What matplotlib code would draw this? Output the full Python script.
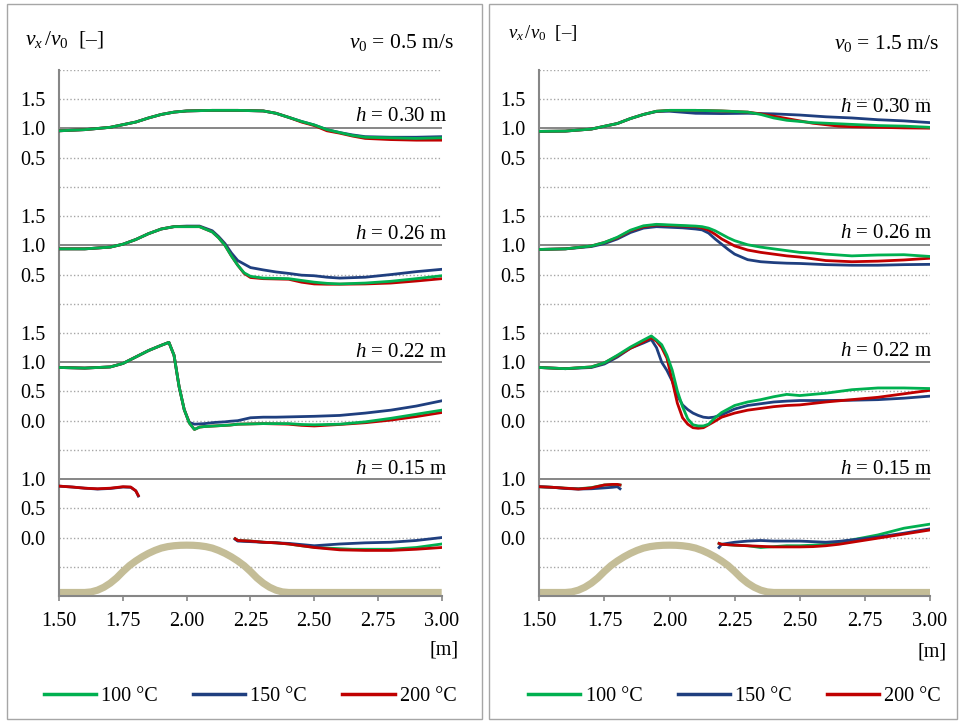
import numpy as np
import matplotlib
matplotlib.use("Agg")
import matplotlib.pyplot as plt
from matplotlib.lines import Line2D
from matplotlib.patches import Rectangle

plt.rcParams['font.family'] = 'Liberation Serif'
plt.rcParams['font.size'] = 14.5
plt.rcParams['mathtext.fontset'] = 'custom'
plt.rcParams['mathtext.rm'] = 'Liberation Serif'
plt.rcParams['mathtext.it'] = 'Liberation Serif:italic'

nan = np.nan

# ---- data (v_x/v_0) ----
X30 = [1.50, 1.60, 1.70, 1.80, 1.85, 1.90, 1.95, 2.00, 2.10, 2.20, 2.30, 2.35, 2.40,
       2.45, 2.50, 2.55, 2.60, 2.65, 2.70, 2.80, 2.90, 3.00]
L30_100 = [.96, .98, 1.02, 1.11, 1.18, 1.24, 1.28, 1.30, 1.31, 1.31, 1.30, 1.26, 1.19,
           1.12, 1.06, .98, .93, .88, .85, .84, .83, .84]
L30_150 = [.96, .98, 1.02, 1.11, 1.18, 1.24, 1.28, 1.30, 1.31, 1.31, 1.30, 1.26, 1.19,
           1.12, 1.06, .98, .93, .89, .86, .85, .85, .86]
L30_200 = [.96, .98, 1.02, 1.11, 1.18, 1.24, 1.28, 1.30, 1.31, 1.31, 1.30, 1.26, 1.19,
           1.11, 1.05, .96, .92, .87, .83, .81, .80, .80]
R30_100 = [.95, .955, .99, 1.085, 1.17, 1.24, 1.295, 1.31, 1.31, 1.30, 1.28, 1.24, 1.18,
           1.14, 1.12, 1.10, 1.09, 1.08, 1.07, 1.05, 1.04, 1.02]
R30_150 = [.95, .955, .99, 1.085, 1.17, 1.24, 1.29, 1.295, 1.26, 1.255, 1.26, 1.255, 1.25,
           1.24, 1.23, 1.215, 1.20, 1.19, 1.18, 1.15, 1.13, 1.10]
R30_200 = [.95, .955, .99, 1.085, 1.17, 1.24, 1.295, 1.31, 1.31, 1.30, 1.28, 1.25, 1.21,
           1.17, 1.13, 1.09, 1.065, 1.04, 1.03, 1.02, 1.01, 1.005]

X26 = [1.50, 1.60, 1.70, 1.75, 1.80, 1.85, 1.90, 1.95, 2.00, 2.05, 2.10, 2.125, 2.15,
       2.175, 2.20, 2.225, 2.25, 2.30, 2.35, 2.40, 2.45, 2.50, 2.55, 2.60, 2.70, 2.80,
       2.90, 3.00]
L26_100 = [.94, .94, .97, 1.02, 1.10, 1.20, 1.28, 1.32, 1.32, 1.32, 1.23, 1.13, 1.00,
           .82, .66, .53, .47, .44, .435, .43, .40, .37, .35, .34, .355, .385, .43, .48]
L26_150 = [.94, .94, .97, 1.02, 1.10, 1.20, 1.28, 1.32, 1.33, 1.33, 1.25, 1.15, 1.03,
           .87, .74, .68, .62, .58, .545, .52, .49, .48, .455, .44, .455, .50, .55, .59]
L26_200 = [.94, .94, .97, 1.02, 1.10, 1.20, 1.28, 1.32, 1.32, 1.32, 1.23, 1.13, 1.00,
           .82, .66, .52, .45, .43, .425, .42, .37, .34, .335, .335, .34, .355, .39, .43]
R26_100 = [.93, .94, .99, 1.05, 1.14, 1.26, 1.335, 1.36, 1.35, 1.34, 1.33, 1.32, 1.295,
           1.25, 1.19, 1.13, 1.08, 1.01, .97, .94, .91, .88, .87, .85, .82, .835, .84, .81]
R26_150 = [.93, .94, .98, 1.03, 1.11, 1.22, 1.295, 1.32, 1.31, 1.30, 1.28, 1.265, 1.21,
           1.11, 1.02, .93, .85, .755, .72, .705, .695, .69, .68, .67, .66, .66, .67, .675]
R26_200 = [.93, .94, .99, 1.05, 1.13, 1.25, 1.32, 1.35, 1.34, 1.33, 1.32, 1.30, 1.26,
           1.19, 1.11, 1.05, .99, .92, .88, .85, .82, .80, .77, .74, .72, .73, .75, .78]

X22 = [1.50, 1.60, 1.70, 1.75, 1.80, 1.85, 1.90, 1.93, 1.95, 1.97, 1.99, 2.01, 2.03,
       2.05, 2.07, 2.09, 2.11, 2.13, 2.15, 2.17, 2.20, 2.25, 2.30, 2.35, 2.40, 2.45,
       2.50, 2.60, 2.70, 2.80, 2.90, 3.00]
L22_100 = [.91, .90, .92, .98, 1.09, 1.20, 1.29, 1.34, 1.12, .58, .19, -.04, -.15,
           -.11, -.10, -.095, -.09, -.085, -.08, -.075, -.06, -.055, -.05, -.05, -.05,
           -.065, -.07, -.06, -.02, .04, .11, .18]
L22_150 = [.91, .90, .92, .98, 1.09, 1.20, 1.29, 1.34, 1.12, .58, .19, -.03, -.06,
           -.055, -.05, -.04, -.03, -.025, -.02, -.01, .0, .05, .06, .06, .065, .07,
           .075, .09, .13, .18, .25, .34]
L22_200 = [.91, .90, .92, .98, 1.09, 1.20, 1.29, 1.34, 1.12, .58, .19, -.04, -.15,
           -.11, -.10, -.095, -.09, -.085, -.08, -.075, -.06, -.055, -.05, -.055, -.06,
           -.08, -.09, -.065, -.035, .01, .07, .14]
R22_100 = [.91, .89, .92, .99, 1.12, 1.26, 1.38, 1.45, 1.38, 1.30, 1.12, .87, .51,
           .24, .03, -.07, -.09, -.09, -.06, .03, .14, .26, .32, .36, .41, .45, .43, .47,
           .53, .56, .56, .55]
R22_150 = [.91, .89, .91, .97, 1.09, 1.24, 1.33, 1.39, 1.25, 1.00, .86, .68, .43, .27,
           .19, .13, .09, .06, .05, .06, .10, .20, .26, .29, .32, .335, .345, .345, .35,
           .36, .385, .42]
R22_200 = [.91, .89, .92, .99, 1.11, 1.24, 1.35, 1.42, 1.36, 1.25, 1.07, .69, .30, .05,
           -.06, -.12, -.13, -.12, -.07, -.02, .06, .13, .18, .21, .24, .26, .27, .32,
           .36, .40, .46, .52]

# h = 0.15 m: no data over the crest (gap at 2.00)
X15 = [1.50, 1.55, 1.60, 1.65, 1.70, 1.75, 1.78, 1.80, 1.81, 2.00, 2.19, 2.20, 2.25,
       2.30, 2.35, 2.40, 2.45, 2.50, 2.55, 2.60, 2.65, 2.70, 2.80, 2.90, 3.00]
L15_100 = [nan, nan, nan, nan, nan, nan, nan, nan, nan, nan, -.02, -.05, -.06, -.08,
           -.09, -.11, -.14, -.165, -.18, -.19, -.20, -.20, -.20, -.17, -.11]
L15_150 = [.88, .865, .845, .83, .84, .865, .86, .80, .71, nan, -.03, -.06, -.07, -.08,
           -.09, -.10, -.12, -.14, -.125, -.11, -.10, -.09, -.08, -.05, .0]
L15_200 = [.88, .865, .845, .835, .845, .87, .865, .80, .72, nan, -.02, -.05, -.06,
           -.08, -.09, -.11, -.14, -.17, -.19, -.21, -.215, -.22, -.22, -.20, -.17]
R15_100 = [.87, .86, .845, .835, .855, .90, .905, .905, .90, nan, -.10, -.115, -.13,
           -.14, -.17, -.155, -.14, -.14, -.13, -.115, -.08, -.04, .045, .16, .23]
R15_150 = [.87, .86, .84, .83, .835, .85, .86, .87, .835, nan, -.17, -.115, -.08, -.06,
           -.05, -.06, -.06, -.06, -.07, -.08, -.065, -.04, .01, .075, .15]
R15_200 = [.87, .86, .845, .83, .85, .90, .91, .91, .90, nan, -.10, -.115, -.13, -.14,
           -.15, -.16, -.16, -.16, -.155, -.14, -.115, -.08, -.01, .06, .13]

# obstacle (hill) outline, drawn in the bottom strip
HILL_X = [1.50, 1.60, 1.625, 1.65, 1.675, 1.70, 1.725, 1.75, 1.775, 1.80, 1.825, 1.85,
          1.875, 1.90, 1.925, 1.95, 1.975, 2.00, 2.025, 2.05, 2.075, 2.10, 2.125, 2.15,
          2.175, 2.20, 2.225, 2.25, 2.275, 2.30, 2.325, 2.35, 2.375, 2.40, 3.00]
HILL_Y = [.06, .06, .07, .10, .15, .22, .31, .42, .52, .60, .67, .73, .78, .82, .845,
          .86, .868, .87, .868, .86, .845, .82, .78, .73, .67, .60, .52, .42, .31, .22,
          .15, .10, .07, .06, .06]

HEIGHTS = ["0.30", "0.26", "0.22", "0.15"]
OFFSETS = [7, 5, 3, 1]
TEMPS = ["100 °C", "150 °C", "200 °C"]
COLORS = ["#00b050", "#1f3f7f", "#c00000"]

left = {"0.30": (X30, [L30_100, L30_150, L30_200]),
        "0.26": (X26, [L26_100, L26_150, L26_200]),
        "0.22": (X22, [L22_100, L22_150, L22_200]),
        "0.15": (X15, [L15_100, L15_150, L15_200])}
right = {"0.30": (X30, [R30_100, R30_150, R30_200]),
         "0.26": (X26, [R26_100, R26_150, R26_200]),
         "0.22": (X22, [R22_100, R22_150, R22_200]),
         "0.15": (X15, [R15_100, R15_150, R15_200])}

ytick_pos = [1, 1.5, 2, 3, 3.5, 4, 4.5, 5.5, 6, 6.5, 7.5, 8, 8.5]
ytick_lab = ["0.0", "0.5", "1.0", "0.0", "0.5", "1.0", "1.5", "0.5", "1.0", "1.5",
             "0.5", "1.0", "1.5"]
label_y = {"0.30": (8.21, 8.36), "0.26": (6.18, 6.21), "0.22": (4.16, 4.18),
           "0.15": (2.16, 2.17)}

fig = plt.figure(figsize=(9.61, 7.22), dpi=100)

# panel frames
fig.patches.append(Rectangle((6.5 / 961, 3.5 / 722), 475 / 961, 715 / 722,
                             transform=fig.transFigure, fill=False, ec="#a6a6a6", lw=1))
fig.patches.append(Rectangle((489 / 961, 3.5 / 722), 468 / 961, 715 / 722,
                             transform=fig.transFigure, fill=False, ec="#a6a6a6", lw=1))

panels = [(left, [59.3 / 961, 0.1745, 382.4 / 961, 0.7285], 0),
          (right, [539.3 / 961, 0.1745, 390.7 / 961, 0.7285], 1)]

for data, rect, k in panels:
    ax = fig.add_axes(rect)
    ax.set_xlim(1.5, 3.0)
    ax.set_ylim(0, 9)
    for lev in np.arange(0.5, 9.01, 0.5):
        if lev in (2, 4, 6, 8):
            ax.axhline(lev, color="#868686", lw=1.4, zorder=1)
        else:
            ax.axhline(lev, color="#a6a6a6", lw=1.0, ls=(0, (1, 1.6)), zorder=1)
    ax.plot(HILL_X, HILL_Y, color="#c4bd97", lw=5.2, solid_capstyle="butt", zorder=2)

    for h, off in zip(HEIGHTS, OFFSETS):
        xs, series = data[h]
        order = (0, 1, 2) if h == "0.15" else (1, 2, 0)
        for i in order:
            ax.plot(xs, np.array(series[i]) + off, color=COLORS[i], lw=2.0, zorder=3)
        ax.text(3.02 if k == 0 else 3.01, label_y[h][k], r"$h$ = " + h + " m",
                ha="right", va="center", fontsize=15, clip_on=False)

    for s in ("top", "right"):
        ax.spines[s].set_visible(False)
    for s in ("left", "bottom"):
        ax.spines[s].set_color("#868686")
        ax.spines[s].set_linewidth(1.5)
    ax.set_xticks([1.5, 1.75, 2.0, 2.25, 2.5, 2.75, 3.0])
    ax.set_xticklabels(["1.50", "1.75", "2.00", "2.25", "2.50", "2.75", "3.00"])
    ax.tick_params(axis="x", length=3.6, width=1.2, color="#868686", pad=8)
    ax.set_yticks(ytick_pos)
    ax.set_yticklabels(ytick_lab)
    ax.tick_params(axis="y", length=0, pad=10)

# titles and units
fig.text(25 / 961, 0.9446, r"$v_x\,/v_0$  [–]", ha="left", va="center", fontsize=15.5)
fig.text(508 / 961, 0.954, r"$v_x\,/v_0$  [–]", ha="left", va="center", fontsize=13.5)
fig.text(454 / 961, 0.9418, r"$v_0$ = 0.5 m/s", ha="right", va="center", fontsize=15.5)
fig.text(939 / 961, 0.940, r"$v_0$ = 1.5 m/s", ha="right", va="center", fontsize=15.5)
fig.text(459 / 961, 0.0997, "[m]", ha="right", va="center", fontsize=14.5)
fig.text(946.7 / 961, 0.097, "[m]", ha="right", va="center", fontsize=14.5)

handles = [Line2D([], [], color=c, lw=2.5) for c in COLORS]
for cx in (250 / 961, 734.6 / 961):
    fig.legend(handles, TEMPS, loc="center", bbox_to_anchor=(cx, 0.036), ncol=3,
               frameon=False, handlelength=2.6, handletextpad=0.25, columnspacing=1.75,
               fontsize=14.5)

fig.savefig("out.png", dpi=100)
